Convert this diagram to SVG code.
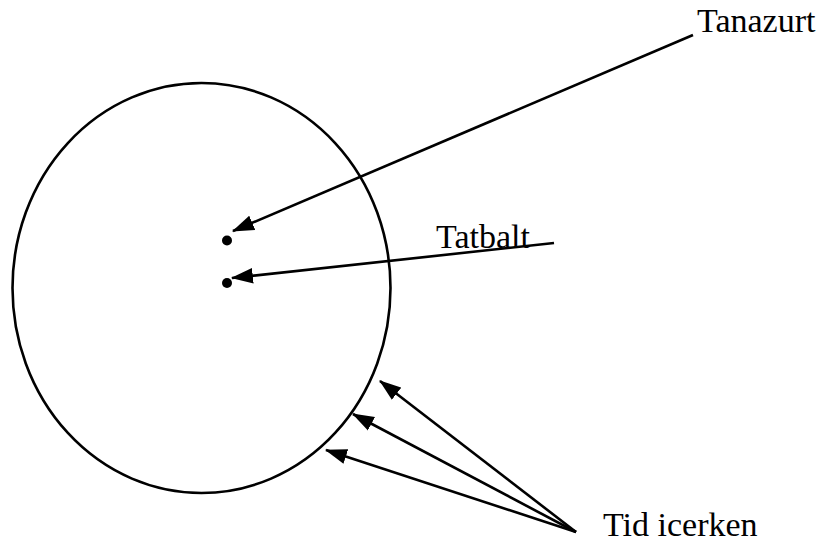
<svg xmlns="http://www.w3.org/2000/svg" width="827" height="544" viewBox="0 0 827 544">
<style>
.ln{stroke:#000;stroke-width:2.6;fill:none}
.lbl{font-family:"Liberation Serif",serif;font-size:34px;fill:#000}
</style>
<defs>
<marker id="ah" markerUnits="userSpaceOnUse" markerWidth="22" markerHeight="16" refX="19" refY="7" orient="auto" viewBox="0 0 20 14">
<path d="M0,0 L20,7 L0,14 Z" fill="#000"/>
</marker>
</defs>
<rect width="827" height="544" fill="#fff"/>
<g id="circle"><ellipse cx="201.5" cy="288" rx="189" ry="205" class="ln" stroke-width="1.8"/></g>
<g id="dot1"><circle cx="227" cy="240.5" r="5" fill="#000"/></g>
<g id="dot2"><circle cx="227" cy="283" r="5" fill="#000"/></g>
<g id="tanazurt"><text class="lbl" x="697" y="32">Tanazurt</text></g>
<g id="tatbalt"><text class="lbl" x="436" y="248">Tatbalt</text></g>
<g id="tid"><text class="lbl" x="603" y="536">Tid icerken</text></g>
<g id="connectors">
<line class="ln" x1="693" y1="35" x2="233" y2="231" marker-end="url(#ah)"/>
<line class="ln" x1="554" y1="243" x2="232" y2="278" marker-end="url(#ah)"/>
<line class="ln" x1="576" y1="532" x2="380" y2="381" marker-end="url(#ah)"/>
<line class="ln" x1="576" y1="532" x2="353" y2="414" marker-end="url(#ah)"/>
<line class="ln" x1="576" y1="532" x2="326" y2="450" marker-end="url(#ah)"/>
</g>
</svg>
